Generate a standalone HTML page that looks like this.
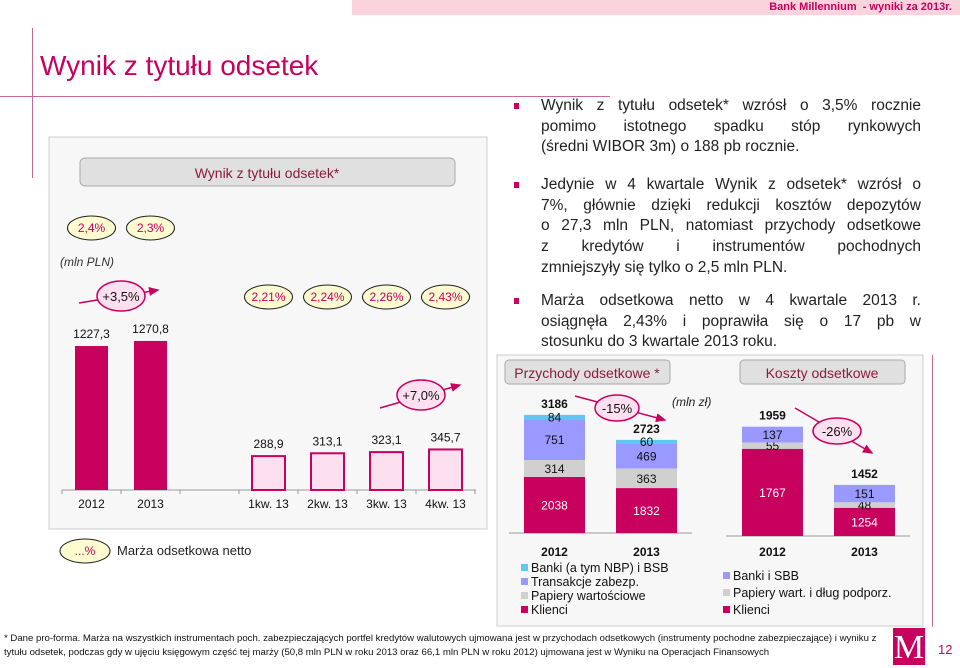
<!DOCTYPE html>
<html><head><meta charset="utf-8"><style>
body{margin:0;width:960px;height:665px;position:relative;overflow:hidden;background:#fff;font-family:"Liberation Sans",sans-serif;}
.abs{position:absolute;}
.bul{position:absolute;left:541px;width:380px;font-size:15.5px;line-height:20.7px;color:#222;}
.bul span{display:block;text-align:justify;text-align-last:justify;white-space:nowrap;}
.bul span.l{text-align-last:left;}
.bul:before{content:"";position:absolute;left:-27px;top:7px;width:5px;height:6px;background:#c8005e;}
</style></head><body>
<div class="abs" style="left:352px;top:0;width:608px;height:15px;background:#fbd3dc;"></div>
<div class="abs" style="right:8px;top:1px;font-size:11px;font-weight:bold;color:#c8005e;">Bank Millennium &nbsp;- wyniki za 2013r.</div>
<div class="abs" style="left:32px;top:28px;width:1px;height:150px;background:#c56a97;"></div>
<div class="abs" style="left:0;top:96px;width:610px;height:1px;background:#c56a97;"></div>
<div class="abs" style="left:40px;top:50px;font-size:28px;color:#c8005e;">Wynik z tytułu odsetek</div>

<div class="bul" style="top:96px;"><span>Wynik z tytułu odsetek* wzrósł o 3,5% rocznie</span><span>pomimo istotnego spadku stóp rynkowych</span><span class="l">(średni WIBOR 3m) o 188 pb rocznie.</span></div>
<div class="bul" style="top:175px;"><span>Jedynie w 4 kwartale Wynik z odsetek* wzrósł o</span><span>7%, głównie dzięki redukcji kosztów depozytów</span><span>o 27,3 mln PLN, natomiast przychody odsetkowe</span><span>z kredytów i instrumentów pochodnych</span><span class="l">zmniejszyły się tylko o 2,5 mln PLN.</span></div>
<div class="bul" style="top:291px;"><span>Marża odsetkowa netto w 4 kwartale 2013 r.</span><span>osiągnęła 2,43% i poprawiła się o 17 pb w</span><span class="l">stosunku do 3 kwartale 2013 roku.</span></div>

<div class="abs" style="left:932px;top:355px;width:1px;height:272px;background:#c56a97;"></div>

<svg class="abs" style="left:0;top:0" width="960" height="665" font-family="Liberation Sans, sans-serif">
<defs><marker id="ar" markerWidth="8" markerHeight="8" refX="6" refY="4" orient="auto"><path d="M0,1 L7,4 L0,7z" fill="#c8005e"/></marker></defs>
<rect x="49" y="137" width="438" height="392" fill="#f7f7f7" stroke="#ccc"/>
<rect x="80" y="158" width="375" height="28" rx="5" fill="#e0e0e0" stroke="#aaa"/>
<text x="267" y="178" text-anchor="middle" font-size="14" fill="#8b1c3c">Wynik z tytułu odsetek*</text>
<text x="60" y="266" font-size="12" font-style="italic" fill="#333">(mln PLN)</text>
<g id="left"></g>
<rect x="497" y="355" width="426" height="271" fill="#f7f7f7" stroke="#ccc"/>
<rect x="505" y="360" width="165" height="24" rx="4" fill="#e0e0e0" stroke="#aaa"/>
<text x="587" y="378" text-anchor="middle" font-size="14" fill="#8b1c3c">Przychody odsetkowe *</text>
<rect x="740" y="360" width="165" height="24" rx="4" fill="#e0e0e0" stroke="#aaa"/>
<text x="822" y="378" text-anchor="middle" font-size="14" fill="#8b1c3c">Koszty odsetkowe</text>
<text x="672" y="406" font-size="12" font-style="italic" fill="#222">(mln zł)</text>
<g id="right"></g>
<ellipse cx="85" cy="551" rx="25" ry="12" fill="#fdfbd0" stroke="#222"/>
<text x="85" y="555" text-anchor="middle" font-size="12" fill="#c8005e">...%</text>
<text x="117" y="555" font-size="13" fill="#222">Marża odsetkowa netto</text>
</svg>

<div class="abs" style="left:4px;top:632px;width:880px;font-size:9.6px;line-height:14px;color:#111;">* Dane pro-forma. Marża na wszystkich instrumentach poch. zabezpieczających portfel kredytów walutowych ujmowana jest w przychodach odsetkowych (instrumenty pochodne zabezpieczające) i wyniku z tytułu odsetek, podczas gdy w ujęciu księgowym część tej marży (50,8 mln PLN w roku 2013 oraz 66,1 mln PLN w roku 2012) ujmowana jest w Wyniku na Operacjach Finansowych</div>
<div class="abs" style="left:893px;top:628px;width:32px;height:37px;background:#c8005e;color:#fff;font-size:34px;line-height:40px;text-align:center;font-family:'Liberation Serif',serif;">M</div>
<div class="abs" style="left:938px;top:642px;font-size:13px;color:#c8005e;">12</div>

<script>
const NS="http://www.w3.org/2000/svg";
const catsL=["2012","2013","","1kw. 13","2kw. 13","3kw. 13","4kw. 13"];
const valsL=[1227.3,1270.8,null,288.9,313.1,323.1,345.7];
const labelsL=["1227,3","1270,8","","288,9","313,1","323,1","345,7"];
const nimL=["2,4%","2,3%","","2,21%","2,24%","2,26%","2,43%"];
const catsR=["2012","2013"];
const incKlienci=[2038,1832],incPapiery=[314,363],incTrans=[751,469],incBanki=[84,60],incTot=[3186,2723];
const costKlienci=[1767,1254],costPapiery=[55,48],costBanki=[137,151],costTot=[1959,1452];

function el(p,t,a,txt){const e=document.createElementNS(NS,t);for(const k in a)e.setAttribute(k,a[k]);if(txt!=null)e.textContent=txt;p.appendChild(e);return e;}
const L=document.getElementById('left');
const base=490,sc=0.1173,x0=62,step=59;
const xL=i=>x0+step*i+step/2, yL=v=>base-v*sc;
el(L,'line',{x1:62,y1:base,x2:476,y2:base,stroke:'#999'});
for(let i=0;i<=7;i++)el(L,'line',{x1:x0+step*i,y1:base,x2:x0+step*i,y2:base+4,stroke:'#999'});
valsL.forEach((v,i)=>{
  const cx=xL(i);
  if(catsL[i]) {const t=el(L,'text',{x:cx,y:base+18,'text-anchor':'middle','font-size':12,fill:'#111'},catsL[i]);
  
  }
  if(v==null)return;
  const yr=i<2;
  const r=el(L,'rect',{x:cx-16.5,y:yL(v),width:33,height:v*sc,fill:yr?'#c8005e':'#fde0ef',stroke:'#c8005e','stroke-width':yr?0:2});
  
  
  el(L,'text',{x:cx,y:yL(v)-8,'text-anchor':'middle','font-size':12,fill:'#111'},labelsL[i]);
  const ny=yr?228:297;
  const e=el(L,'ellipse',{cx:cx,cy:ny,rx:24,ry:12,fill:'#fdfbd0',stroke:'#222'});
  
  
  el(L,'text',{x:cx,y:ny+4,'text-anchor':'middle','font-size':12,fill:'#c8005e'},nimL[i]);
});
el(L,'line',{x1:79,y1:303,x2:158,y2:290,stroke:'#c8005e','stroke-width':1.5,'marker-end':'url(#ar)'});
el(L,'ellipse',{cx:121,cy:296,rx:24,ry:15,fill:'#fde0ef',stroke:'#c8005e','stroke-width':1.5});
el(L,'text',{x:121,y:301,'text-anchor':'middle','font-size':13,fill:'#111'},'+3,5%');
el(L,'line',{x1:380,y1:408,x2:460,y2:385,stroke:'#c8005e','stroke-width':1.5,'marker-end':'url(#ar)'});
el(L,'ellipse',{cx:421,cy:395,rx:24,ry:15,fill:'#fde0ef',stroke:'#c8005e','stroke-width':1.5});
el(L,'text',{x:421,y:400,'text-anchor':'middle','font-size':13,fill:'#111'},'+7,0%');

const R=document.getElementById('right');
// bottom segment uses a broken (compressed) axis: height = v*sc - off
function stack(series,colors,txtc,xs,base,sc,off,tots,ax0,ax1,nm){
  el(R,'line',{x1:ax0,y1:base,x2:ax1,y2:base,stroke:'#999'});
  xs.forEach((x,i)=>{
    let y=base;
    series.forEach((s,k)=>{
      const h=Math.max(1,s[i]*sc-(k===0?off:0));y-=h;
      const r=el(R,'rect',{x:x,y:y,width:61,height:h,fill:colors[k]});
      
      
      el(R,'text',{x:x+30.5,y:y+h/2+4.5,'text-anchor':'middle','font-size':12,fill:txtc[k]},s[i]);
    });
    el(R,'text',{x:x+30.5,y:y-7,'text-anchor':'middle','font-size':12,'font-weight':'bold',fill:'#111'},tots[i]);
    el(R,'text',{x:x+30.5,y:556,'text-anchor':'middle','font-size':12,'font-weight':'bold',fill:'#111'},catsR[i]);
  });
}
stack([incKlienci,incPapiery,incTrans,incBanki],['#c8005e','#d0d0d0','#9999ff','#5ec8f0'],['#fff','#111','#111','#111'],[524,616],533,0.054,54,incTot,509,692,'income');
stack([costKlienci,costPapiery,costBanki],['#c8005e','#d0d0d0','#9999ff'],['#fff','#111','#111'],[742,834],536,0.115,116,costTot,726,910,'cost');
el(R,'line',{x1:575,y1:396,x2:665,y2:420,stroke:'#c8005e','stroke-width':1.5,'marker-end':'url(#ar)'});
el(R,'ellipse',{cx:617,cy:408,rx:22,ry:13,fill:'#fde0ef',stroke:'#c8005e','stroke-width':1.5});
el(R,'text',{x:617,y:413,'text-anchor':'middle','font-size':13,fill:'#111'},'-15%');
el(R,'line',{x1:795,y1:408,x2:872,y2:453,stroke:'#c8005e','stroke-width':1.5,'marker-end':'url(#ar)'});
el(R,'ellipse',{cx:837,cy:431,rx:24,ry:13,fill:'#fde0ef',stroke:'#c8005e','stroke-width':1.5});
el(R,'text',{x:837,y:436,'text-anchor':'middle','font-size':13,fill:'#111'},'-26%');
const lg1=[['#5ec8f0','Banki (a tym NBP) i BSB'],['#9999ff','Transakcje zabezp.'],['#d0d0d0','Papiery wartościowe'],['#c8005e','Klienci']];
lg1.forEach((d,i)=>{el(R,'rect',{x:521,y:564+i*14,width:7,height:7,fill:d[0]});el(R,'text',{x:531,y:572+i*14,'font-size':12.5,fill:'#111'},d[1]);});
const lg2=[['#9999ff','Banki i SBB'],['#d0d0d0','Papiery wart. i dług podporz.'],['#c8005e','Klienci']];
lg2.forEach((d,i)=>{el(R,'rect',{x:723,y:572+i*17,width:7,height:7,fill:d[0]});el(R,'text',{x:733,y:580+i*17,'font-size':12.5,fill:'#111'},d[1]);});
</script>
</body></html>
